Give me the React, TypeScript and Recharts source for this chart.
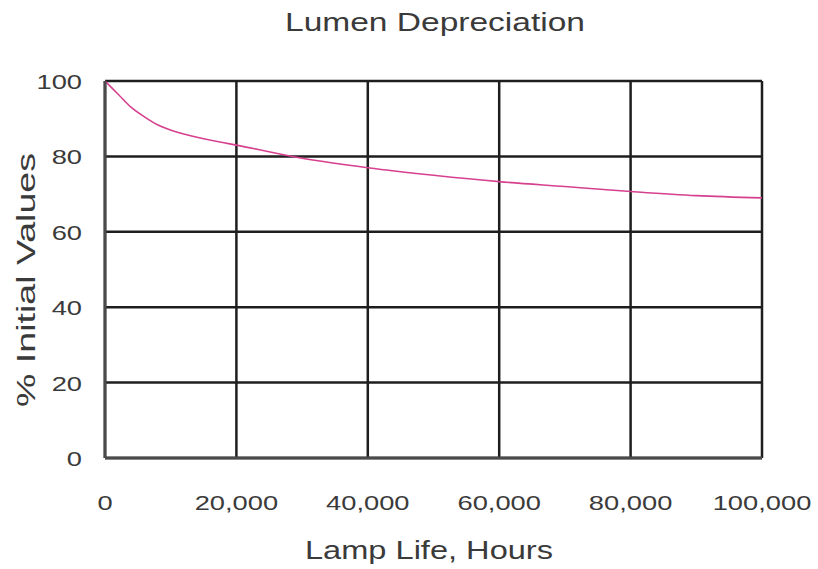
import React from 'react';
import { LineChart, Line, XAxis, YAxis, CartesianGrid, Label } from 'recharts';

// lamp hours vs % of initial lumens
const hours = [0, 2000, 4000, 6000, 8000, 11000, 14000, 17500, 20000, 30000, 40000, 50000, 60000, 70000, 80000, 90000, 100000];
const percent = [100, 96.5, 93, 90.5, 88.4, 86.4, 85.1, 83.8, 83, 79.5, 77, 75, 73.3, 72, 70.7, 69.6, 69];
const xTicks = [0, 20000, 40000, 60000, 80000, 100000];
const yTicks = [0, 20, 40, 60, 80, 100];

const data = hours.map((h, i) => ({ hours: h, pct: percent[i] }));

const FONT = '"Liberation Sans", Arial, sans-serif';
const TEXT = '#3a3a3a';

const fmt = (v: number) => v.toLocaleString('en-US');

const XTick = (props: any) => {
  const { x, y, payload } = props;
  return (
    <text
      transform={`translate(${x},${y + 52}) scale(1.3,1)`}
      textAnchor="middle"
      fontFamily={FONT}
      fontSize={21}
      fill={TEXT}
    >
      {fmt(payload.value)}
    </text>
  );
};

const YTick = (props: any) => {
  const { x, y, payload } = props;
  return (
    <text
      transform={`translate(${x - 23},${y + 8}) scale(1.3,1)`}
      textAnchor="end"
      fontFamily={FONT}
      fontSize={21}
      fill={TEXT}
    >
      {payload.value}
    </text>
  );
};

export default function App() {
  return (
    <div style={{ position: 'absolute', left: 0, top: 0, width: 818, height: 569, background: '#fff' }}>
      <svg width={818} height={40} style={{ position: 'absolute', left: 0, top: 0 }}>
        <text x={435} y={31} textAnchor="middle" fontFamily={FONT} fontSize={25} fill={TEXT} textLength={300} lengthAdjust="spacingAndGlyphs">
          Lumen Depreciation
        </text>
      </svg>
      <LineChart width={818} height={569} data={data} margin={{ top: 81, right: 56, left: 0, bottom: 0 }}>
        <CartesianGrid stroke="#1e1e1e" strokeWidth={2.5} horizontalValues={yTicks} verticalValues={xTicks} />
        <XAxis
          dataKey="hours"
          type="number"
          domain={[0, 100000]}
          ticks={xTicks}
          height={111}
          tickLine={false}
          tickSize={0}
          tickMargin={0}
          tick={<XTick />}
          axisLine={{ stroke: '#4a4a4a', strokeWidth: 3 }}
        >
          <Label
            content={() => (
              <text x={429} y={559} textAnchor="middle" fontFamily={FONT} fontSize={25} fill={TEXT} textLength={248} lengthAdjust="spacingAndGlyphs">
                Lamp Life, Hours
              </text>
            )}
          />
        </XAxis>
        <YAxis
          type="number"
          domain={[0, 100]}
          ticks={yTicks}
          width={105}
          tickLine={false}
          tickSize={0}
          tickMargin={0}
          tick={<YTick />}
          axisLine={{ stroke: '#4a4a4a', strokeWidth: 3 }}
        >
          <Label
            content={() => (
              <text
                transform="translate(35,280) rotate(-90)"
                textAnchor="middle"
                fontFamily={FONT}
                fontSize={25}
                fill={TEXT}
                textLength={254}
                lengthAdjust="spacingAndGlyphs"
              >
                % Initial Values
              </text>
            )}
          />
        </YAxis>
        <Line
          type="monotone"
          dataKey="pct"
          stroke="#d6408f"
          strokeWidth={1.6}
          dot={false}
          isAnimationActive={false}
        />
      </LineChart>
    </div>
  );
}
